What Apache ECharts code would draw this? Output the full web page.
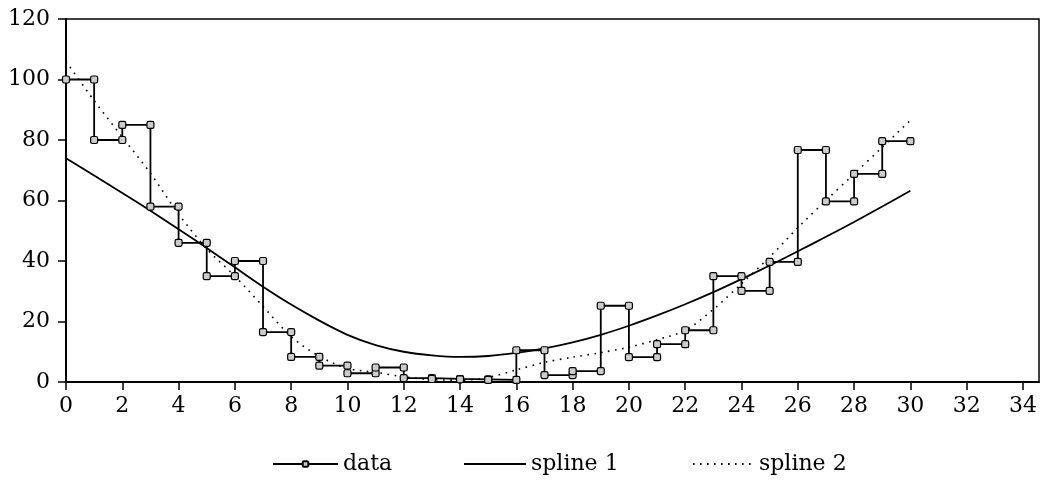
<!DOCTYPE html>
<html>
<head>
<meta charset="UTF-8">
<title></title>
<script src="https://cdn.jsdelivr.net/npm/echarts@6/dist/echarts.min.js"></script>
</head>
<body style="margin:0;background:#fff;">
<div id="chart" style="width:1040px;height:480px;"></div>
<script>
// step heights, one per unit interval [i, i+1]
var stepVals = [100, 80, 85, 58, 46, 35, 40, 16.5, 8.3, 5.4, 2.9, 4.8, 1.3, 1.0, 0.9, 0.7,
	10.5, 2.3, 3.6, 25.2, 8.2, 12.5, 17.1, 35.0, 30.1, 39.7, 76.7, 59.7, 68.8, 79.6];
var splineX = [0, 1, 2, 3, 4, 5, 6, 7, 8, 9, 10, 11, 12, 13, 14, 15, 16, 17, 18, 19, 20,
	21, 22, 23, 24, 25, 26, 27, 28, 29, 30];
var spline1 = [74, 68.3, 62.5, 56.6, 50.5, 44.3, 37.9, 31.5, 25.6, 20.3, 15.6, 12.2, 10.0, 8.8, 8.3, 8.6,
	9.6, 11.1, 13.1, 15.6, 18.6, 22.0, 25.7, 29.7, 34.0, 38.5, 43.2, 48.0, 52.9, 58.0, 63.2];
var spline2 = [106, 93, 81, 69, 55.5, 44, 35, 25, 15, 8.5, 4.5, 3.2, 1.7, 0.8, 0.6, 1.5,
	4, 6.5, 8.2, 9.7, 11.5, 14, 17, 24, 32.5, 41.3, 51, 60, 68.8, 77.6, 86.5];

var stepPts = [];
for (var i = 0; i < stepVals.length; i++) {
	stepPts.push([i, stepVals[i]]);
	stepPts.push([i + 1, stepVals[i]]);
}
function pairs(xs, ys) {
	var out = [];
	for (var i = 0; i < xs.length; i++) out.push([xs[i], ys[i]]);
	return out;
}

var font = 'DejaVu Serif';
var legendText = { color: '#000', fontFamily: font, fontSize: 22 };

var chart = echarts.init(document.getElementById('chart'));
chart.setOption({
	animation: false,
	grid: {
		left: 66, right: 1, top: 19, bottom: 98,
		show: true, borderColor: '#000', borderWidth: 1.5, backgroundColor: 'transparent'
	},
	legend: [
		{ data: ['data'], left: 267, top: 448, itemWidth: 65, itemHeight: 7, textStyle: legendText },
		{ data: [{ name: 'spline 1', itemStyle: { opacity: 0 } }], left: 458, top: 448, itemWidth: 62, itemHeight: 7, textStyle: legendText },
		{ data: [{ name: 'spline 2', itemStyle: { opacity: 0 } }], left: 687, top: 448, itemWidth: 61, itemHeight: 7, textStyle: legendText }
	],
	xAxis: {
		type: 'value', min: 0, max: 34.57, interval: 2,
		splitLine: { show: false },
		axisLine: { lineStyle: { color: '#000', width: 2 } },
		axisTick: { inside: false, length: 8, lineStyle: { color: '#000', width: 1.5 } },
		axisLabel: {
			color: '#000', fontFamily: font, fontSize: 22, margin: 13,
			showMaxLabel: false,
			formatter: function (v) { return v % 2 === 0 ? String(v) : ''; }
		}
	},
	yAxis: {
		type: 'value', min: 0, max: 120, interval: 20,
		splitLine: { show: false },
		axisLine: { show: true, lineStyle: { color: '#000', width: 2 } },
		axisTick: { show: true, inside: false, length: 8, lineStyle: { color: '#000', width: 1.5 } },
		axisLabel: { color: '#000', fontFamily: font, fontSize: 22, margin: 16 }
	},
	series: [
		{
			name: 'data', type: 'line', data: stepPts,
			symbol: 'roundRect', symbolSize: 7, showSymbol: true,
			itemStyle: { color: '#ccc', borderColor: '#000', borderWidth: 1.2 },
			lineStyle: { color: '#000', width: 1.8 },
			z: 3
		},
		{
			name: 'spline 1', type: 'line', data: pairs(splineX, spline1),
			smooth: 0.3, showSymbol: false, symbol: 'none',
			itemStyle: { color: '#000' },
			lineStyle: { color: '#000', width: 1.8 }
		},
		{
			name: 'spline 2', type: 'line', data: pairs(splineX, spline2),
			smooth: 0.3, showSymbol: false, symbol: 'none',
			itemStyle: { color: '#000' },
			lineStyle: { color: '#000', width: 1.6, type: [1.6, 5.4] }
		}
	]
});
</script>
</body>
</html>
